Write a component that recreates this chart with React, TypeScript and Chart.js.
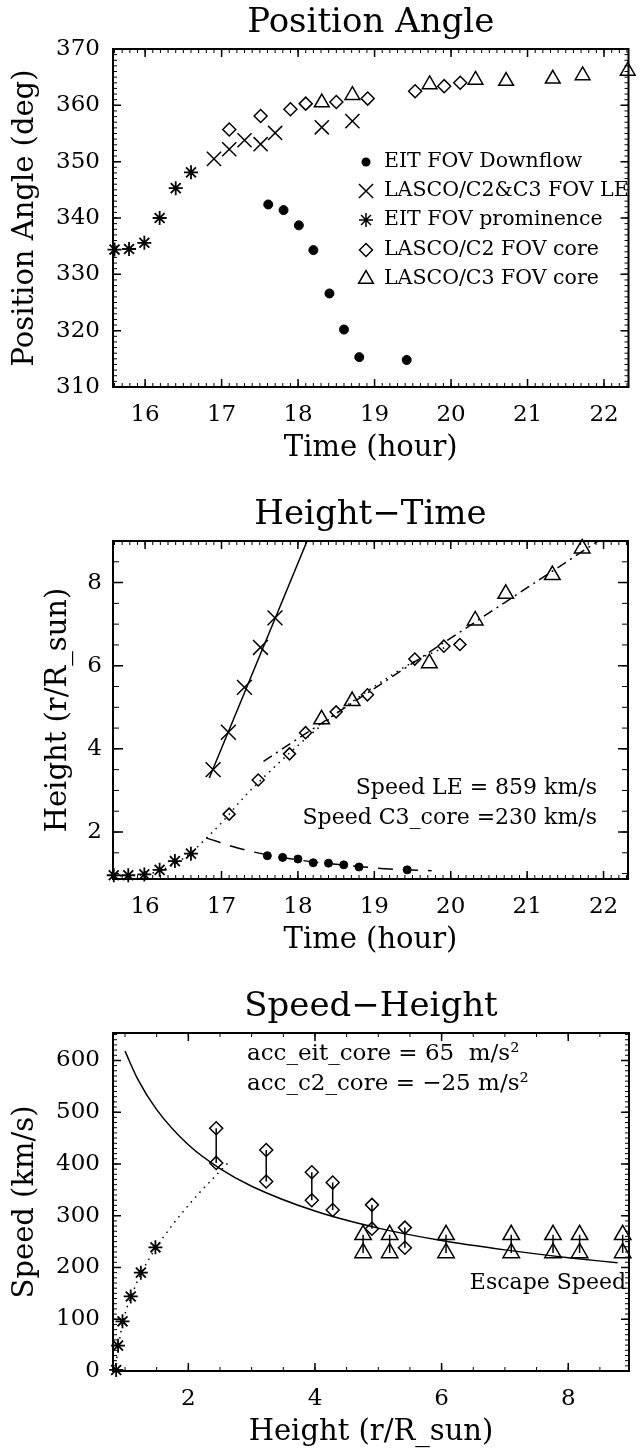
import React, { useEffect, useRef } from "react";
import { Chart, registerables } from "chart.js";

Chart.register(...registerables);

const FONT = "'DejaVu Serif', serif";

// ---------------- Panel 1: Position Angle ----------------
const PA_DOWN_T = [17.61, 17.81, 18.01, 18.2, 18.41, 18.6, 18.8, 19.42];
const PA_DOWN_V = [342.4, 341.4, 338.7, 334.3, 326.6, 320.2, 315.3, 314.8];
const PA_LE_T = [16.9, 17.1, 17.3, 17.51, 17.7, 18.31, 18.71];
const PA_LE_V = [350.5, 352.2, 353.8, 353.1, 355.1, 356.1, 357.2];
const PA_PROM_T = [15.6, 15.79, 15.99, 16.19, 16.4, 16.6];
const PA_PROM_V = [334.4, 334.5, 335.6, 340.0, 345.3, 348.1];
const PA_C2_T = [17.1, 17.51, 17.9, 18.1, 18.5, 18.91, 19.53, 19.91, 20.12];
const PA_C2_V = [355.7, 358.1, 359.3, 360.3, 360.6, 361.2, 362.5, 363.4, 364.0];
const PA_C3_T = [18.31, 18.71, 19.72, 20.32, 20.72, 21.33, 21.72, 22.31];
const PA_C3_V = [360.5, 361.8, 363.7, 364.5, 364.3, 364.7, 365.3, 366.1];

// ---------------- Panel 2: Height-Time ----------------
const HT_DOWN_T = [17.6, 17.8, 18.0, 18.2, 18.4, 18.6, 18.8, 19.43];
const HT_DOWN_H = [1.43, 1.39, 1.35, 1.26, 1.25, 1.21, 1.16, 1.09];
const HT_LE_T = [16.89, 17.09, 17.3, 17.51, 17.7];
const HT_LE_H = [3.5, 4.4, 5.48, 6.44, 7.15];
const HT_PROM_T = [15.59, 15.78, 15.99, 16.19, 16.39, 16.6];
const HT_PROM_H = [0.96, 0.96, 0.98, 1.09, 1.3, 1.48];
const HT_C2_T = [17.1, 17.48, 17.89, 18.1, 18.5, 18.91, 19.53, 19.91, 20.12];
const HT_C2_H = [2.43, 3.25, 3.88, 4.39, 4.89, 5.3, 6.16, 6.47, 6.51];
const HT_C3_T = [18.31, 18.71, 19.72, 20.32, 20.72, 21.33, 21.72];
const HT_C3_H = [4.71, 5.15, 6.06, 7.09, 7.73, 8.18, 8.82];
// fitted curves
const HT_LE_FIT_T = [16.84, 18.12];
const HT_LE_FIT_H = [3.3, 9.0];
const HT_C3_FIT_T = [17.55, 21.93];
const HT_C3_FIT_H = [3.7, 9.0];
const HT_PROM_FIT_T = [15.59, 16.0, 16.3, 16.6, 16.8, 17.0, 17.3, 17.6, 18.0, 18.5, 19.0, 19.5, 20.1];
const HT_PROM_FIT_H = [0.94, 0.98, 1.15, 1.5, 1.85, 2.22, 2.85, 3.4, 4.08, 4.85, 5.5, 6.08, 6.58];
const HT_DOWN_FIT_T = [16.8, 17.2, 17.6, 18.0, 18.4, 18.8, 19.2, 19.75];
const HT_DOWN_FIT_H = [1.86, 1.62, 1.45, 1.33, 1.24, 1.17, 1.11, 1.07];

// ---------------- Panel 3: Speed-Height ----------------
const SH_PROM_R = [0.86, 0.89, 0.96, 1.09, 1.25, 1.48];
const SH_PROM_V = [2, 49, 96, 144, 190, 239];
const SH_C2_R = [2.44, 3.23, 3.95, 4.28, 4.9, 5.42];
const SH_C2_HI = [469, 427, 384, 364, 321, 277];
const SH_C2_LO = [402, 366, 330, 311, 275, 238];
const SH_C3_R = [4.76, 5.18, 6.07, 7.1, 7.76, 8.18, 8.86];
const SH_C3_HI = [263, 263, 263, 263, 263, 263, 263];
const SH_C3_LO = [228, 228, 228, 228, 228, 228, 228];
const SH_ESC_R = [1.0, 1.2, 1.5, 2.0, 2.5, 3.0, 4.0, 5.0, 6.0, 7.0, 8.0, 8.78];
const SH_ESC_V = [618, 564, 505, 437, 391, 357, 309, 276, 252, 234, 219, 209];
const SH_EIT_FIT_R = [0.84, 0.9, 0.97, 1.1, 1.26, 1.49, 2.0, 2.65];
const SH_EIT_FIT_V = [0, 50, 97, 145, 190, 238, 320, 405];

// ---------------- tick labels ----------------
const TIME_TICKS = [16, 17, 18, 19, 20, 21, 22];
const PA_TICKS = [310, 320, 330, 340, 350, 360, 370];
const HEIGHT_TICKS = [2, 4, 6, 8];
const SPEED_TICKS = [0, 100, 200, 300, 400, 500, 600];
const RADIUS_TICKS = [2, 4, 6, 8];

const LEGEND_LABELS = [
  "EIT FOV Downflow",
  "LASCO/C2&C3 FOV LE",
  "EIT FOV prominence",
  "LASCO/C2 FOV core",
  "LASCO/C3 FOV core",
];

const pts = (xs: number[], ys: number[]) => xs.map((x, i) => ({ x, y: ys[i] }));
const bars = (xs: number[], hi: number[], lo: number[]) =>
  xs.flatMap((x, i) => [
    { x, y: hi[i] },
    { x, y: lo[i] },
    { x, y: null as any },
  ]);

function drawSymbol(ctx: CanvasRenderingContext2D, style: string, x: number, y: number, r: number) {
  ctx.beginPath();
  if (style === "circle") {
    ctx.arc(x, y, r, 0, Math.PI * 2);
    ctx.fill();
    return;
  }
  if (style === "crossRot") {
    const o = r * Math.SQRT1_2;
    ctx.moveTo(x - o, y - o);
    ctx.lineTo(x + o, y + o);
    ctx.moveTo(x - o, y + o);
    ctx.lineTo(x + o, y - o);
  } else if (style === "star") {
    const o = r * Math.SQRT1_2;
    ctx.moveTo(x - r, y);
    ctx.lineTo(x + r, y);
    ctx.moveTo(x, y - r);
    ctx.lineTo(x, y + r);
    ctx.moveTo(x - o, y - o);
    ctx.lineTo(x + o, y + o);
    ctx.moveTo(x - o, y + o);
    ctx.lineTo(x + o, y - o);
  } else if (style === "rectRot") {
    ctx.moveTo(x - r, y);
    ctx.lineTo(x, y - r);
    ctx.lineTo(x + r, y);
    ctx.lineTo(x, y + r);
    ctx.closePath();
  } else if (style === "triangle") {
    let a = 0;
    ctx.moveTo(x + Math.sin(a) * r, y - Math.cos(a) * r);
    a += (2 * Math.PI) / 3;
    ctx.lineTo(x + Math.sin(a) * r, y - Math.cos(a) * r);
    a += (2 * Math.PI) / 3;
    ctx.lineTo(x + Math.sin(a) * r, y - Math.cos(a) * r);
    ctx.closePath();
  }
  ctx.stroke();
}

const boxPlugin = {
  id: "idlBox",
  afterDatasetsDraw(chart: any, _a: any, o: any) {
    const { ctx, chartArea: a, scales } = chart;
    const xs = scales.x;
    const ys = scales.y;
    const minors = (min: number, max: number, step: number) => {
      const out: number[] = [];
      for (let k = Math.ceil(min / step - 1e-9); k * step <= max + 1e-9; k++) out.push(k * step);
      return out;
    };
    const tickX = (v: number, len: number) => {
      const p = xs.getPixelForValue(v);
      ctx.moveTo(p, a.bottom);
      ctx.lineTo(p, a.bottom - len);
      ctx.moveTo(p, a.top);
      ctx.lineTo(p, a.top + len);
    };
    const tickY = (v: number, len: number) => {
      const p = ys.getPixelForValue(v);
      ctx.moveTo(a.left, p);
      ctx.lineTo(a.left + len, p);
      ctx.moveTo(a.right, p);
      ctx.lineTo(a.right - len, p);
    };
    ctx.save();
    ctx.strokeStyle = "#000";
    ctx.lineWidth = 1;
    ctx.beginPath();
    minors(xs.min, xs.max, o.xMinor).forEach((v) => tickX(v, o.xMinorLen));
    minors(ys.min, ys.max, o.yMinor).forEach((v) => tickY(v, o.yMinorLen));
    ctx.stroke();
    ctx.lineWidth = 1.5;
    ctx.beginPath();
    xs.ticks.forEach((t: any) => tickX(t.value, o.xMajorLen));
    ys.ticks.forEach((t: any) => tickY(t.value, o.yMajorLen));
    ctx.stroke();
    ctx.lineWidth = 2;
    ctx.strokeRect(a.left, a.top, a.right - a.left, a.bottom - a.top);
    ctx.restore();
  },
};

const textPlugin = {
  id: "idlText",
  afterDraw(chart: any, _a: any, o: any) {
    const ctx = chart.ctx as CanvasRenderingContext2D;
    ctx.save();
    ctx.fillStyle = "#000";
    ctx.strokeStyle = "#000";
    (o.items || []).forEach((it: any) => {
      ctx.font = `${it.size}px ${FONT}`;
      ctx.textAlign = it.align || "left";
      ctx.textBaseline = "middle";
      ctx.fillText(it.text, it.x, it.y);
    });
    ctx.lineWidth = 1.5;
    (o.symbols || []).forEach((s: any) => drawSymbol(ctx, s.style, s.x, s.y, s.r));
    ctx.restore();
  },
};

const BOX_TOP = 49;
const BOX_BOTTOM = 387;
const BOX_LEFT = 113;
const BOX_RIGHT = 637;
const TITLE_SIZE = 34;
const AXIS_TITLE_SIZE = 29;
const TICK_SIZE = 23;

function makeConfig(p: any) {
  const H = p.height;
  const axHalf = (AXIS_TITLE_SIZE * 1.2) / 2;
  return {
    type: "scatter",
    data: { datasets: p.datasets },
    options: {
      responsive: false,
      animation: false,
      devicePixelRatio: 1,
      layout: { padding: { top: 0, right: 640 - BOX_RIGHT, bottom: 0, left: 0 } },
      plugins: {
        legend: { display: false },
        tooltip: { enabled: false },
        title: {
          display: true,
          fullSize: false,
          text: p.title,
          color: "#000",
          font: { family: FONT, size: TITLE_SIZE, weight: "normal", lineHeight: 1.2 },
          padding: { top: 3, bottom: BOX_TOP - 3 - TITLE_SIZE * 1.2 },
        },
        idlBox: p.box,
        idlText: p.text,
      },
      scales: {
        x: {
          type: "linear",
          min: p.xMin,
          max: p.xMax,
          grid: { display: false, drawTicks: false },
          border: { display: false },
          ticks: {
            color: "#000",
            padding: 14,
            font: { family: FONT, size: TICK_SIZE },
            maxRotation: 0,
            autoSkip: false,
            callback: (v: number) => String(v),
          },
          afterBuildTicks: (s: any) => {
            s.ticks = p.xTicks.map((v: number) => ({ value: v }));
          },
          afterFit: (s: any) => {
            s.height = H - BOX_BOTTOM;
          },
          title: {
            display: true,
            text: p.xTitle,
            color: "#000",
            font: { family: FONT, size: AXIS_TITLE_SIZE, lineHeight: 1.2 },
            padding: { top: 0, bottom: H - 448 - axHalf },
          },
        },
        y: {
          type: "linear",
          min: p.yMin,
          max: p.yMax,
          grid: { display: false, drawTicks: false },
          border: { display: false },
          ticks: {
            color: "#000",
            padding: p.yTickPad,
            font: { family: FONT, size: TICK_SIZE },
            autoSkip: false,
            callback: (v: number) => String(v),
          },
          afterBuildTicks: (s: any) => {
            s.ticks = p.yTicks.map((v: number) => ({ value: v }));
          },
          afterFit: (s: any) => {
            s.width = BOX_LEFT;
          },
          title: {
            display: true,
            text: p.yTitle,
            color: "#000",
            font: { family: FONT, size: AXIS_TITLE_SIZE, lineHeight: 1.2 },
            padding: { top: p.yTitleX - axHalf, bottom: 0 },
          },
        },
      },
    },
    plugins: [boxPlugin, textPlugin],
  };
}

const marker = (data: any[], style: string, r: number, filled = false, bw = 1.5) => ({
  data,
  showLine: false,
  pointStyle: style,
  pointRadius: r,
  pointBorderWidth: bw,
  pointBorderColor: "#000",
  pointBackgroundColor: filled ? "#000" : "rgba(0,0,0,0)",
  borderColor: "#000",
  backgroundColor: filled ? "#000" : "rgba(0,0,0,0)",
  clip: false,
});

const curve = (data: any[], dash: number[], width = 1.5, smooth = false) => ({
  data,
  showLine: true,
  pointRadius: 0,
  borderColor: "#000",
  borderWidth: width,
  borderDash: dash,
  tension: smooth ? 0.4 : 0,
  cubicInterpolationMode: smooth ? "monotone" : "default",
  spanGaps: false,
});

export default function App() {
  const r1 = useRef<HTMLCanvasElement>(null);
  const r2 = useRef<HTMLCanvasElement>(null);
  const r3 = useRef<HTMLCanvasElement>(null);

  useEffect(() => {
    const legendY = [162, 191, 220, 250, 279];
    const legendStyles = [
      { style: "circle", r: 4.5 },
      { style: "crossRot", r: 10 },
      { style: "star", r: 7 },
      { style: "rectRot", r: 6.5 },
      { style: "triangle", r: 8.5 },
    ];
    const c1 = new Chart(
      r1.current as HTMLCanvasElement,
      makeConfig({
        height: 492,
        title: "Position Angle",
        xTitle: "Time (hour)",
        yTitle: "Position Angle (deg)",
        xMin: 15.58,
        xMax: 22.32,
        yMin: 310,
        yMax: 370,
        xTicks: TIME_TICKS,
        yTicks: PA_TICKS,
        yTickPad: 13,
        yTitleX: 25,
        box: { xMinor: 0.1, xMinorLen: 4, xMajorLen: 8, yMinor: 1, yMinorLen: 4, yMajorLen: 8 },
        text: {
          items: LEGEND_LABELS.map((t, i) => ({ text: t, x: 384, y: legendY[i], size: 20.5 })),
          symbols: legendStyles.map((s, i) => ({ ...s, x: 366, y: legendY[i] })),
        },
        datasets: [
          marker(pts(PA_DOWN_T, PA_DOWN_V), "circle", 4.5, true, 1),
          marker(pts(PA_LE_T, PA_LE_V), "crossRot", 10),
          marker(pts(PA_PROM_T, PA_PROM_V), "star", 7, false, 1.8),
          marker(pts(PA_C2_T, PA_C2_V), "rectRot", 6.5),
          marker(pts(PA_C3_T, PA_C3_V), "triangle", 8.5),
        ],
      }) as any
    );
    const c2 = new Chart(
      r2.current as HTMLCanvasElement,
      makeConfig({
        height: 492,
        title: "Height\u2212Time",
        xTitle: "Time (hour)",
        yTitle: "Height (r/R_sun)",
        xMin: 15.58,
        xMax: 22.32,
        yMin: 0.87,
        yMax: 9.0,
        xTicks: TIME_TICKS,
        yTicks: HEIGHT_TICKS,
        yTickPad: 11,
        yTitleX: 58,
        box: { xMinor: 0.1, xMinorLen: 4, xMajorLen: 8, yMinor: 0.5, yMinorLen: 6, yMajorLen: 10 },
        text: {
          items: [
            { text: "Speed LE = 859 km/s", x: 597, y: 296, size: 22 },
            { text: "Speed C3_core =230 km/s", x: 597, y: 326, size: 22 },
          ].map((t) => ({ ...t, align: "right" })),
        },
        datasets: [
          marker(pts(HT_DOWN_T, HT_DOWN_H), "circle", 4, true, 1),
          marker(pts(HT_LE_T, HT_LE_H), "crossRot", 10.5),
          marker(pts(HT_PROM_T, HT_PROM_H), "star", 7, false, 1.8),
          marker(pts(HT_C2_T, HT_C2_H), "rectRot", 6),
          marker(pts(HT_C3_T, HT_C3_H), "triangle", 9),
          curve(pts(HT_LE_FIT_T, HT_LE_FIT_H), [], 1.5),
          curve(pts(HT_C3_FIT_T, HT_C3_FIT_H), [10, 5, 2, 5], 1.5),
          curve(pts(HT_PROM_FIT_T, HT_PROM_FIT_H), [1.5, 5], 1.5, true),
          curve(pts(HT_DOWN_FIT_T, HT_DOWN_FIT_H), [15, 10], 1.5, true),
        ],
      }) as any
    );
    const c3 = new Chart(
      r3.current as HTMLCanvasElement,
      makeConfig({
        height: 466,
        title: "Speed\u2212Height",
        xTitle: "Height (r/R_sun)",
        yTitle: "Speed (km/s)",
        xMin: 0.81,
        xMax: 8.96,
        yMin: 0,
        yMax: 653,
        xTicks: RADIUS_TICKS,
        yTicks: SPEED_TICKS,
        yTickPad: 13,
        yTitleX: 25,
        box: { xMinor: 0.5, xMinorLen: 4, xMajorLen: 8, yMinor: 10, yMinorLen: 4, yMajorLen: 8 },
        text: {
          items: [
            { text: "acc_eit_core = 65  m/s\u00b2", x: 247, y: 70, size: 23 },
            { text: "acc_c2_core = \u221225 m/s\u00b2", x: 247, y: 100, size: 23 },
            { text: "Escape Speed", x: 626, y: 299, size: 22, align: "right" },
          ],
        },
        datasets: [
          marker(pts(SH_PROM_R, SH_PROM_V), "star", 7, false, 1.8),
          marker(pts(SH_C2_R, SH_C2_HI), "rectRot", 6.5),
          marker(pts(SH_C2_R, SH_C2_LO), "rectRot", 6.5),
          marker(pts(SH_C3_R, SH_C3_HI), "triangle", 9.5),
          marker(pts(SH_C3_R, SH_C3_LO), "triangle", 9.5),
          curve(bars(SH_C2_R, SH_C2_HI, SH_C2_LO), [], 1.5),
          curve(bars(SH_C3_R, SH_C3_HI, SH_C3_LO), [], 1.5),
          curve(pts(SH_ESC_R, SH_ESC_V), [], 1.5, true),
          curve(pts(SH_EIT_FIT_R, SH_EIT_FIT_V), [1.5, 5], 1.5, true),
        ],
      }) as any
    );
    return () => {
      c1.destroy();
      c2.destroy();
      c3.destroy();
    };
  }, []);

  return (
    <div style={{ position: "absolute", left: 0, top: 0, width: 640, height: 1450, background: "#fff" }}>
      <canvas ref={r1} width={640} height={492} style={{ display: "block" }} />
      <canvas ref={r2} width={640} height={492} style={{ display: "block" }} />
      <canvas ref={r3} width={640} height={466} style={{ display: "block" }} />
    </div>
  );
}
